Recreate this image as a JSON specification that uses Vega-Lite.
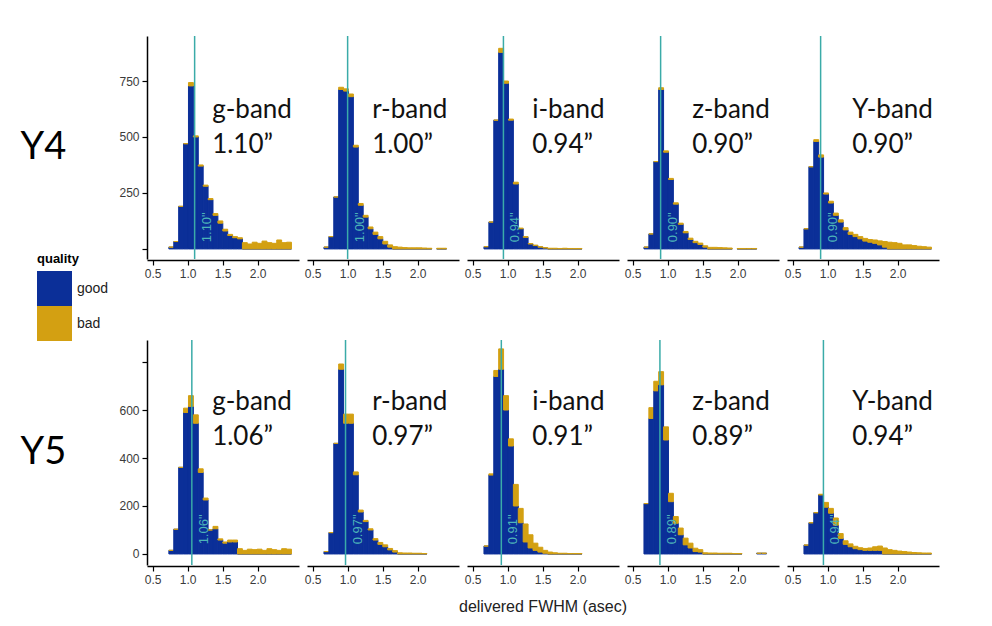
{
  "$schema": "https://vega.github.io/schema/vega-lite/v6.json",
  "padding": {"left": 20, "top": 35, "right": 20, "bottom": 10},
  "background": "white",
  "config": {
    "view": {"stroke": null},
    "font": "Liberation Sans",
    "axis": {"domainColor": "#000", "domainWidth": 1.5, "tickColor": "#000", "tickWidth": 1.2, "tickSize": 5, "labelFont": "Liberation Sans", "labelFontSize": 12, "labelColor": "#3a3a3a", "labelPadding": 3, "grid": false},
    "legend": {"orient": "none", "legendX": -110, "legendY": 217}
  },
  "datasets": {
    "d": [
      {"yr":"Y4","band":"g","med":1.10,"rl":"1.10\"","bl":"g-band\n1.10”"},
      {"yr":"Y4","band":"r","med":1.00,"rl":"1.00\"","bl":"r-band\n1.00”"},
      {"yr":"Y4","band":"i","med":0.94,"rl":"0.94\"","bl":"i-band\n0.94”"},
      {"yr":"Y4","band":"z","med":0.90,"rl":"0.90\"","bl":"z-band\n0.90”"},
      {"yr":"Y4","band":"Y","med":0.90,"rl":"0.90\"","bl":"Y-band\n0.90”"},
      {"yr":"Y5","band":"g","med":1.06,"rl":"1.06\"","bl":"g-band\n1.06”"},
      {"yr":"Y5","band":"r","med":0.97,"rl":"0.97\"","bl":"r-band\n0.97”"},
      {"yr":"Y5","band":"i","med":0.91,"rl":"0.91\"","bl":"i-band\n0.91”"},
      {"yr":"Y5","band":"z","med":0.89,"rl":"0.89\"","bl":"z-band\n0.89”"},
      {"yr":"Y5","band":"Y","med":0.94,"rl":"0.94\"","bl":"Y-band\n0.94”"},

      {"yr":"Y4","band":"g","x0":0.725,"good":8,"bad":0},
      {"yr":"Y4","band":"g","x0":0.795,"good":33,"bad":0},
      {"yr":"Y4","band":"g","x0":0.865,"good":190,"bad":0},
      {"yr":"Y4","band":"g","x0":0.935,"good":470,"bad":0},
      {"yr":"Y4","band":"g","x0":1.005,"good":728,"bad":15},
      {"yr":"Y4","band":"g","x0":1.075,"good":500,"bad":5},
      {"yr":"Y4","band":"g","x0":1.145,"good":370,"bad":5},
      {"yr":"Y4","band":"g","x0":1.215,"good":280,"bad":5},
      {"yr":"Y4","band":"g","x0":1.285,"good":220,"bad":5},
      {"yr":"Y4","band":"g","x0":1.355,"good":150,"bad":8},
      {"yr":"Y4","band":"g","x0":1.425,"good":115,"bad":10},
      {"yr":"Y4","band":"g","x0":1.495,"good":80,"bad":8},
      {"yr":"Y4","band":"g","x0":1.565,"good":60,"bad":5},
      {"yr":"Y4","band":"g","x0":1.635,"good":50,"bad":5},
      {"yr":"Y4","band":"g","x0":1.705,"good":45,"bad":5},
      {"yr":"Y4","band":"g","x0":1.775,"good":0,"bad":28},
      {"yr":"Y4","band":"g","x0":1.845,"good":0,"bad":22},
      {"yr":"Y4","band":"g","x0":1.915,"good":0,"bad":30},
      {"yr":"Y4","band":"g","x0":1.985,"good":0,"bad":25},
      {"yr":"Y4","band":"g","x0":2.055,"good":0,"bad":35},
      {"yr":"Y4","band":"g","x0":2.125,"good":0,"bad":28},
      {"yr":"Y4","band":"g","x0":2.195,"good":0,"bad":25},
      {"yr":"Y4","band":"g","x0":2.265,"good":0,"bad":40},
      {"yr":"Y4","band":"g","x0":2.335,"good":0,"bad":28},
      {"yr":"Y4","band":"g","x0":2.405,"good":0,"bad":30},

      {"yr":"Y4","band":"r","x0":0.655,"good":8,"bad":0},
      {"yr":"Y4","band":"r","x0":0.725,"good":55,"bad":0},
      {"yr":"Y4","band":"r","x0":0.795,"good":232,"bad":0},
      {"yr":"Y4","band":"r","x0":0.865,"good":712,"bad":10},
      {"yr":"Y4","band":"r","x0":0.935,"good":705,"bad":10},
      {"yr":"Y4","band":"r","x0":1.005,"good":680,"bad":12},
      {"yr":"Y4","band":"r","x0":1.075,"good":455,"bad":8},
      {"yr":"Y4","band":"r","x0":1.145,"good":195,"bad":8},
      {"yr":"Y4","band":"r","x0":1.215,"good":142,"bad":8},
      {"yr":"Y4","band":"r","x0":1.285,"good":90,"bad":8},
      {"yr":"Y4","band":"r","x0":1.355,"good":65,"bad":10},
      {"yr":"Y4","band":"r","x0":1.425,"good":45,"bad":10},
      {"yr":"Y4","band":"r","x0":1.495,"good":22,"bad":12},
      {"yr":"Y4","band":"r","x0":1.565,"good":8,"bad":10},
      {"yr":"Y4","band":"r","x0":1.635,"good":0,"bad":10},
      {"yr":"Y4","band":"r","x0":1.705,"good":0,"bad":8},
      {"yr":"Y4","band":"r","x0":1.775,"good":0,"bad":6},
      {"yr":"Y4","band":"r","x0":1.845,"good":0,"bad":5},
      {"yr":"Y4","band":"r","x0":1.915,"good":0,"bad":5},
      {"yr":"Y4","band":"r","x0":1.985,"good":0,"bad":5},
      {"yr":"Y4","band":"r","x0":2.055,"good":0,"bad":4},
      {"yr":"Y4","band":"r","x0":2.125,"good":0,"bad":3},
      {"yr":"Y4","band":"r","x0":2.265,"good":0,"bad":3},
      {"yr":"Y4","band":"r","x0":2.335,"good":0,"bad":3},

      {"yr":"Y4","band":"i","x0":0.655,"good":10,"bad":0},
      {"yr":"Y4","band":"i","x0":0.725,"good":120,"bad":0},
      {"yr":"Y4","band":"i","x0":0.795,"good":575,"bad":0},
      {"yr":"Y4","band":"i","x0":0.865,"good":878,"bad":18},
      {"yr":"Y4","band":"i","x0":0.935,"good":740,"bad":10},
      {"yr":"Y4","band":"i","x0":1.005,"good":575,"bad":5},
      {"yr":"Y4","band":"i","x0":1.075,"good":290,"bad":8},
      {"yr":"Y4","band":"i","x0":1.145,"good":90,"bad":3},
      {"yr":"Y4","band":"i","x0":1.215,"good":52,"bad":3},
      {"yr":"Y4","band":"i","x0":1.285,"good":22,"bad":2},
      {"yr":"Y4","band":"i","x0":1.355,"good":15,"bad":2},
      {"yr":"Y4","band":"i","x0":1.425,"good":8,"bad":2},
      {"yr":"Y4","band":"i","x0":1.495,"good":4,"bad":2},
      {"yr":"Y4","band":"i","x0":1.565,"good":0,"bad":3},
      {"yr":"Y4","band":"i","x0":1.635,"good":0,"bad":3},
      {"yr":"Y4","band":"i","x0":1.705,"good":0,"bad":2},
      {"yr":"Y4","band":"i","x0":1.775,"good":0,"bad":3},
      {"yr":"Y4","band":"i","x0":1.845,"good":0,"bad":2},
      {"yr":"Y4","band":"i","x0":1.915,"good":0,"bad":2},
      {"yr":"Y4","band":"i","x0":1.985,"good":0,"bad":2},

      {"yr":"Y4","band":"z","x0":0.655,"good":8,"bad":0},
      {"yr":"Y4","band":"z","x0":0.725,"good":67,"bad":0},
      {"yr":"Y4","band":"z","x0":0.795,"good":390,"bad":0},
      {"yr":"Y4","band":"z","x0":0.865,"good":712,"bad":8},
      {"yr":"Y4","band":"z","x0":0.935,"good":432,"bad":6},
      {"yr":"Y4","band":"z","x0":1.005,"good":310,"bad":5},
      {"yr":"Y4","band":"z","x0":1.075,"good":200,"bad":6},
      {"yr":"Y4","band":"z","x0":1.145,"good":110,"bad":5},
      {"yr":"Y4","band":"z","x0":1.215,"good":72,"bad":6},
      {"yr":"Y4","band":"z","x0":1.285,"good":42,"bad":6},
      {"yr":"Y4","band":"z","x0":1.355,"good":28,"bad":6},
      {"yr":"Y4","band":"z","x0":1.425,"good":20,"bad":6},
      {"yr":"Y4","band":"z","x0":1.495,"good":8,"bad":6},
      {"yr":"Y4","band":"z","x0":1.565,"good":0,"bad":7},
      {"yr":"Y4","band":"z","x0":1.635,"good":0,"bad":7},
      {"yr":"Y4","band":"z","x0":1.705,"good":0,"bad":6},
      {"yr":"Y4","band":"z","x0":1.775,"good":0,"bad":5},
      {"yr":"Y4","band":"z","x0":1.845,"good":0,"bad":4},
      {"yr":"Y4","band":"z","x0":1.985,"good":0,"bad":2},
      {"yr":"Y4","band":"z","x0":2.055,"good":0,"bad":2},
      {"yr":"Y4","band":"z","x0":2.125,"good":0,"bad":2},
      {"yr":"Y4","band":"z","x0":2.195,"good":0,"bad":2},

      {"yr":"Y4","band":"Y","x0":0.585,"good":8,"bad":0},
      {"yr":"Y4","band":"Y","x0":0.655,"good":90,"bad":0},
      {"yr":"Y4","band":"Y","x0":0.725,"good":367,"bad":0},
      {"yr":"Y4","band":"Y","x0":0.795,"good":480,"bad":8},
      {"yr":"Y4","band":"Y","x0":0.865,"good":410,"bad":10},
      {"yr":"Y4","band":"Y","x0":0.935,"good":245,"bad":5},
      {"yr":"Y4","band":"Y","x0":1.005,"good":205,"bad":8},
      {"yr":"Y4","band":"Y","x0":1.075,"good":150,"bad":10},
      {"yr":"Y4","band":"Y","x0":1.145,"good":120,"bad":10},
      {"yr":"Y4","band":"Y","x0":1.215,"good":85,"bad":10},
      {"yr":"Y4","band":"Y","x0":1.285,"good":65,"bad":10},
      {"yr":"Y4","band":"Y","x0":1.355,"good":55,"bad":10},
      {"yr":"Y4","band":"Y","x0":1.425,"good":45,"bad":10},
      {"yr":"Y4","band":"Y","x0":1.495,"good":35,"bad":12},
      {"yr":"Y4","band":"Y","x0":1.565,"good":30,"bad":12},
      {"yr":"Y4","band":"Y","x0":1.635,"good":25,"bad":15},
      {"yr":"Y4","band":"Y","x0":1.705,"good":18,"bad":18},
      {"yr":"Y4","band":"Y","x0":1.775,"good":8,"bad":25},
      {"yr":"Y4","band":"Y","x0":1.845,"good":0,"bad":30},
      {"yr":"Y4","band":"Y","x0":1.915,"good":0,"bad":28},
      {"yr":"Y4","band":"Y","x0":1.985,"good":0,"bad":25},
      {"yr":"Y4","band":"Y","x0":2.055,"good":0,"bad":18},
      {"yr":"Y4","band":"Y","x0":2.125,"good":0,"bad":18},
      {"yr":"Y4","band":"Y","x0":2.195,"good":0,"bad":15},
      {"yr":"Y4","band":"Y","x0":2.265,"good":0,"bad":12},
      {"yr":"Y4","band":"Y","x0":2.335,"good":0,"bad":10},
      {"yr":"Y4","band":"Y","x0":2.405,"good":0,"bad":8},

      {"yr":"Y5","band":"g","x0":0.725,"good":15,"bad":0},
      {"yr":"Y5","band":"g","x0":0.795,"good":103,"bad":0},
      {"yr":"Y5","band":"g","x0":0.865,"good":361,"bad":0},
      {"yr":"Y5","band":"g","x0":0.935,"good":590,"bad":18},
      {"yr":"Y5","band":"g","x0":1.005,"good":615,"bad":45},
      {"yr":"Y5","band":"g","x0":1.075,"good":545,"bad":35},
      {"yr":"Y5","band":"g","x0":1.145,"good":340,"bad":15},
      {"yr":"Y5","band":"g","x0":1.215,"good":225,"bad":8},
      {"yr":"Y5","band":"g","x0":1.285,"good":100,"bad":0},
      {"yr":"Y5","band":"g","x0":1.355,"good":105,"bad":10},
      {"yr":"Y5","band":"g","x0":1.425,"good":58,"bad":5},
      {"yr":"Y5","band":"g","x0":1.495,"good":45,"bad":5},
      {"yr":"Y5","band":"g","x0":1.565,"good":50,"bad":8},
      {"yr":"Y5","band":"g","x0":1.635,"good":50,"bad":8},
      {"yr":"Y5","band":"g","x0":1.705,"good":0,"bad":22},
      {"yr":"Y5","band":"g","x0":1.775,"good":0,"bad":15},
      {"yr":"Y5","band":"g","x0":1.845,"good":0,"bad":20},
      {"yr":"Y5","band":"g","x0":1.915,"good":0,"bad":18},
      {"yr":"Y5","band":"g","x0":1.985,"good":0,"bad":20},
      {"yr":"Y5","band":"g","x0":2.055,"good":0,"bad":15},
      {"yr":"Y5","band":"g","x0":2.125,"good":0,"bad":22},
      {"yr":"Y5","band":"g","x0":2.195,"good":0,"bad":18},
      {"yr":"Y5","band":"g","x0":2.265,"good":0,"bad":15},
      {"yr":"Y5","band":"g","x0":2.335,"good":0,"bad":22},
      {"yr":"Y5","band":"g","x0":2.405,"good":0,"bad":20},

      {"yr":"Y5","band":"r","x0":0.655,"good":10,"bad":0},
      {"yr":"Y5","band":"r","x0":0.725,"good":89,"bad":0},
      {"yr":"Y5","band":"r","x0":0.795,"good":461,"bad":0},
      {"yr":"Y5","band":"r","x0":0.865,"good":770,"bad":22},
      {"yr":"Y5","band":"r","x0":0.935,"good":545,"bad":38},
      {"yr":"Y5","band":"r","x0":1.005,"good":545,"bad":38},
      {"yr":"Y5","band":"r","x0":1.075,"good":330,"bad":12},
      {"yr":"Y5","band":"r","x0":1.145,"good":175,"bad":8},
      {"yr":"Y5","band":"r","x0":1.215,"good":135,"bad":5},
      {"yr":"Y5","band":"r","x0":1.285,"good":100,"bad":5},
      {"yr":"Y5","band":"r","x0":1.355,"good":58,"bad":6},
      {"yr":"Y5","band":"r","x0":1.425,"good":40,"bad":8},
      {"yr":"Y5","band":"r","x0":1.495,"good":30,"bad":8},
      {"yr":"Y5","band":"r","x0":1.565,"good":17,"bad":6},
      {"yr":"Y5","band":"r","x0":1.635,"good":8,"bad":6},
      {"yr":"Y5","band":"r","x0":1.705,"good":0,"bad":5},
      {"yr":"Y5","band":"r","x0":1.775,"good":0,"bad":4},
      {"yr":"Y5","band":"r","x0":1.845,"good":0,"bad":4},
      {"yr":"Y5","band":"r","x0":1.915,"good":0,"bad":3},
      {"yr":"Y5","band":"r","x0":1.985,"good":0,"bad":3},
      {"yr":"Y5","band":"r","x0":2.055,"good":0,"bad":2},

      {"yr":"Y5","band":"i","x0":0.655,"good":33,"bad":0},
      {"yr":"Y5","band":"i","x0":0.725,"good":329,"bad":5},
      {"yr":"Y5","band":"i","x0":0.795,"good":740,"bad":25},
      {"yr":"Y5","band":"i","x0":0.865,"good":770,"bad":85},
      {"yr":"Y5","band":"i","x0":0.935,"good":600,"bad":60},
      {"yr":"Y5","band":"i","x0":1.005,"good":450,"bad":30},
      {"yr":"Y5","band":"i","x0":1.075,"good":200,"bad":90},
      {"yr":"Y5","band":"i","x0":1.145,"good":130,"bad":60},
      {"yr":"Y5","band":"i","x0":1.215,"good":50,"bad":75},
      {"yr":"Y5","band":"i","x0":1.285,"good":25,"bad":55},
      {"yr":"Y5","band":"i","x0":1.355,"good":15,"bad":30},
      {"yr":"Y5","band":"i","x0":1.425,"good":8,"bad":20},
      {"yr":"Y5","band":"i","x0":1.495,"good":3,"bad":12},
      {"yr":"Y5","band":"i","x0":1.565,"good":0,"bad":8},
      {"yr":"Y5","band":"i","x0":1.635,"good":0,"bad":5},
      {"yr":"Y5","band":"i","x0":1.705,"good":0,"bad":3},
      {"yr":"Y5","band":"i","x0":1.775,"good":0,"bad":3},
      {"yr":"Y5","band":"i","x0":1.845,"good":0,"bad":2},
      {"yr":"Y5","band":"i","x0":1.915,"good":0,"bad":2},
      {"yr":"Y5","band":"i","x0":1.985,"good":0,"bad":2},

      {"yr":"Y5","band":"z","x0":0.655,"good":210,"bad":0},
      {"yr":"Y5","band":"z","x0":0.725,"good":565,"bad":45},
      {"yr":"Y5","band":"z","x0":0.795,"good":680,"bad":40},
      {"yr":"Y5","band":"z","x0":0.865,"good":705,"bad":55},
      {"yr":"Y5","band":"z","x0":0.935,"good":475,"bad":55},
      {"yr":"Y5","band":"z","x0":1.005,"good":218,"bad":35},
      {"yr":"Y5","band":"z","x0":1.075,"good":128,"bad":28},
      {"yr":"Y5","band":"z","x0":1.145,"good":80,"bad":28},
      {"yr":"Y5","band":"z","x0":1.215,"good":38,"bad":28},
      {"yr":"Y5","band":"z","x0":1.285,"good":25,"bad":20},
      {"yr":"Y5","band":"z","x0":1.355,"good":10,"bad":14},
      {"yr":"Y5","band":"z","x0":1.425,"good":8,"bad":10},
      {"yr":"Y5","band":"z","x0":1.495,"good":0,"bad":5},
      {"yr":"Y5","band":"z","x0":1.565,"good":0,"bad":4},
      {"yr":"Y5","band":"z","x0":1.635,"good":0,"bad":4},
      {"yr":"Y5","band":"z","x0":1.705,"good":0,"bad":3},
      {"yr":"Y5","band":"z","x0":1.775,"good":0,"bad":3},
      {"yr":"Y5","band":"z","x0":1.845,"good":0,"bad":3},
      {"yr":"Y5","band":"z","x0":1.915,"good":0,"bad":2},
      {"yr":"Y5","band":"z","x0":1.985,"good":0,"bad":2},
      {"yr":"Y5","band":"z","x0":2.265,"good":3,"bad":0},
      {"yr":"Y5","band":"z","x0":2.335,"good":3,"bad":0},

      {"yr":"Y5","band":"Y","x0":0.655,"good":37,"bad":0},
      {"yr":"Y5","band":"Y","x0":0.725,"good":130,"bad":0},
      {"yr":"Y5","band":"Y","x0":0.795,"good":172,"bad":0},
      {"yr":"Y5","band":"Y","x0":0.865,"good":246,"bad":3},
      {"yr":"Y5","band":"Y","x0":0.935,"good":195,"bad":20},
      {"yr":"Y5","band":"Y","x0":1.005,"good":170,"bad":20},
      {"yr":"Y5","band":"Y","x0":1.075,"good":120,"bad":30},
      {"yr":"Y5","band":"Y","x0":1.145,"good":65,"bad":20},
      {"yr":"Y5","band":"Y","x0":1.215,"good":40,"bad":15},
      {"yr":"Y5","band":"Y","x0":1.285,"good":30,"bad":12},
      {"yr":"Y5","band":"Y","x0":1.355,"good":22,"bad":10},
      {"yr":"Y5","band":"Y","x0":1.425,"good":18,"bad":8},
      {"yr":"Y5","band":"Y","x0":1.495,"good":15,"bad":8},
      {"yr":"Y5","band":"Y","x0":1.565,"good":15,"bad":10},
      {"yr":"Y5","band":"Y","x0":1.635,"good":15,"bad":15},
      {"yr":"Y5","band":"Y","x0":1.705,"good":15,"bad":18},
      {"yr":"Y5","band":"Y","x0":1.775,"good":0,"bad":25},
      {"yr":"Y5","band":"Y","x0":1.845,"good":0,"bad":18},
      {"yr":"Y5","band":"Y","x0":1.915,"good":0,"bad":15},
      {"yr":"Y5","band":"Y","x0":1.985,"good":0,"bad":12},
      {"yr":"Y5","band":"Y","x0":2.055,"good":0,"bad":10},
      {"yr":"Y5","band":"Y","x0":2.125,"good":0,"bad":8},
      {"yr":"Y5","band":"Y","x0":2.195,"good":0,"bad":6},
      {"yr":"Y5","band":"Y","x0":2.265,"good":0,"bad":5},
      {"yr":"Y5","band":"Y","x0":2.335,"good":0,"bad":4},
      {"yr":"Y5","band":"Y","x0":2.405,"good":0,"bad":4}
    ]
  },
  "spacing": 60,
  "vconcat": [
    {
      "data": {"name": "d"},
      "transform": [{"filter": "datum.yr == 'Y4'"}],
      "facet": {
        "row": {"field": "yr", "type": "nominal", "title": null, "header": {"labelAngle": 0, "labelOrient": "left", "labelFont": "Lato", "labelFontSize": 38, "labelColor": "#000", "labelPadding": 7}},
        "column": {"field": "band", "type": "nominal", "sort": ["g","r","i","z","Y"], "title": null, "header": {"labels": false}}
      },
      "spacing": {"column": 8, "row": 0},
      "spec": {
        "width": 152,
        "height": 223,
        "layer": [
          {
            "transform": [{"filter": "datum.x0 != null"}, {"fold": ["good","bad"], "as": ["quality","n"]}],
            "mark": {"type": "bar", "binSpacing": 0, "strokeWidth": 1},
            "encoding": {
              "x": {"field": "x0", "type": "quantitative", "bin": {"binned": true, "step": 0.07}, "scale": {"domain": [0.42, 2.59], "nice": false, "zero": false}, "axis": {"title": null, "values": [0.5, 1, 1.5, 2], "format": ".1f"}},
              "y": {"field": "n", "type": "quantitative", "stack": "zero", "scale": {"domain": [-45, 951], "nice": false, "zero": false}, "axis": {"title": null, "values": [0, 250, 500, 750], "labelExpr": "datum.value == 0 ? '' : datum.label"}},
              "color": {"field": "quality", "type": "nominal", "scale": {"domain": ["good","bad"], "range": ["#0b2f98","#d3a012"]}, "legend": {"title": "quality", "titleFontSize": 13, "titleFontWeight": "bold", "titleColor": "#000", "titlePadding": 5, "labelFontSize": 14, "labelColor": "#222", "symbolType": "square", "symbolSize": 1225, "symbolStrokeWidth": 0, "symbolOpacity": 1, "rowPadding": 0, "labelOffset": 5}},
              "stroke": {"field": "quality", "type": "nominal", "scale": {"domain": ["good","bad"], "range": ["#0b2f98","#d3a012"]}, "legend": null},
              "order": {"field": "quality", "sort": "descending"}
            }
          },
          {
            "transform": [{"filter": "datum.med != null"}],
            "mark": {"type": "rule", "color": "#3aaba8", "strokeWidth": 1.5},
            "encoding": {"x": {"field": "med", "type": "quantitative"}}
          },
          {
            "transform": [{"filter": "datum.med != null"}],
            "mark": {"type": "text", "angle": 270, "align": "left", "baseline": "top", "dy": 6, "fontSize": 13, "font": "Liberation Sans", "color": "#4db5b8"},
            "encoding": {"x": {"field": "med", "type": "quantitative"}, "y": {"datum": 30}, "text": {"field": "rl"}}
          },
          {
            "transform": [{"filter": "datum.med != null"}],
            "mark": {"type": "text", "align": "left", "baseline": "alphabetic", "fontSize": 26, "font": "Lato", "lineBreak": "\n", "lineHeight": 35, "color": "#111"},
            "encoding": {"x": {"datum": 1.35}, "y": {"datum": 585}, "text": {"field": "bl"}}
          }
        ]
      }
    },
    {
      "data": {"name": "d"},
      "transform": [{"filter": "datum.yr == 'Y5'"}],
      "facet": {
        "row": {"field": "yr", "type": "nominal", "title": null, "header": {"labelAngle": 0, "labelOrient": "left", "labelFont": "Lato", "labelFontSize": 38, "labelColor": "#000", "labelPadding": 7}},
        "column": {"field": "band", "type": "nominal", "sort": ["g","r","i","z","Y"], "title": "delivered FWHM (asec)", "header": {"labels": false, "titleOrient": "bottom", "titleFont": "Liberation Sans", "titleFontSize": 16, "titleFontWeight": "normal", "titleColor": "#222", "titlePadding": 4}}
      },
      "spacing": {"column": 8, "row": 0},
      "spec": {
        "width": 152,
        "height": 225,
        "layer": [
          {
            "transform": [{"filter": "datum.x0 != null"}, {"fold": ["good","bad"], "as": ["quality","n"]}],
            "mark": {"type": "bar", "binSpacing": 0, "strokeWidth": 1},
            "encoding": {
              "x": {"field": "x0", "type": "quantitative", "bin": {"binned": true, "step": 0.07}, "scale": {"domain": [0.42, 2.59], "nice": false, "zero": false}, "axis": {"title": null, "values": [0.5, 1, 1.5, 2], "format": ".1f"}},
              "y": {"field": "n", "type": "quantitative", "stack": "zero", "scale": {"domain": [-46, 892], "nice": false, "zero": false}, "axis": {"title": null, "values": [0, 200, 400, 600, 800], "labelExpr": "datum.value == 800 ? '' : datum.label"}},
              "color": {"field": "quality", "type": "nominal", "scale": {"domain": ["good","bad"], "range": ["#0b2f98","#d3a012"]}},
              "stroke": {"field": "quality", "type": "nominal", "scale": {"domain": ["good","bad"], "range": ["#0b2f98","#d3a012"]}, "legend": null},
              "order": {"field": "quality", "sort": "descending"}
            }
          },
          {
            "transform": [{"filter": "datum.med != null"}],
            "mark": {"type": "rule", "color": "#3aaba8", "strokeWidth": 1.5},
            "encoding": {"x": {"field": "med", "type": "quantitative"}}
          },
          {
            "transform": [{"filter": "datum.med != null"}],
            "mark": {"type": "text", "angle": 270, "align": "left", "baseline": "top", "dy": 6, "fontSize": 13, "font": "Liberation Sans", "color": "#4db5b8"},
            "encoding": {"x": {"field": "med", "type": "quantitative"}, "y": {"datum": 40}, "text": {"field": "rl"}}
          },
          {
            "transform": [{"filter": "datum.med != null"}],
            "mark": {"type": "text", "align": "left", "baseline": "alphabetic", "fontSize": 26, "font": "Lato", "lineBreak": "\n", "lineHeight": 35, "color": "#111"},
            "encoding": {"x": {"datum": 1.35}, "y": {"datum": 600}, "text": {"field": "bl"}}
          }
        ]
      }
    }
  ]
}
